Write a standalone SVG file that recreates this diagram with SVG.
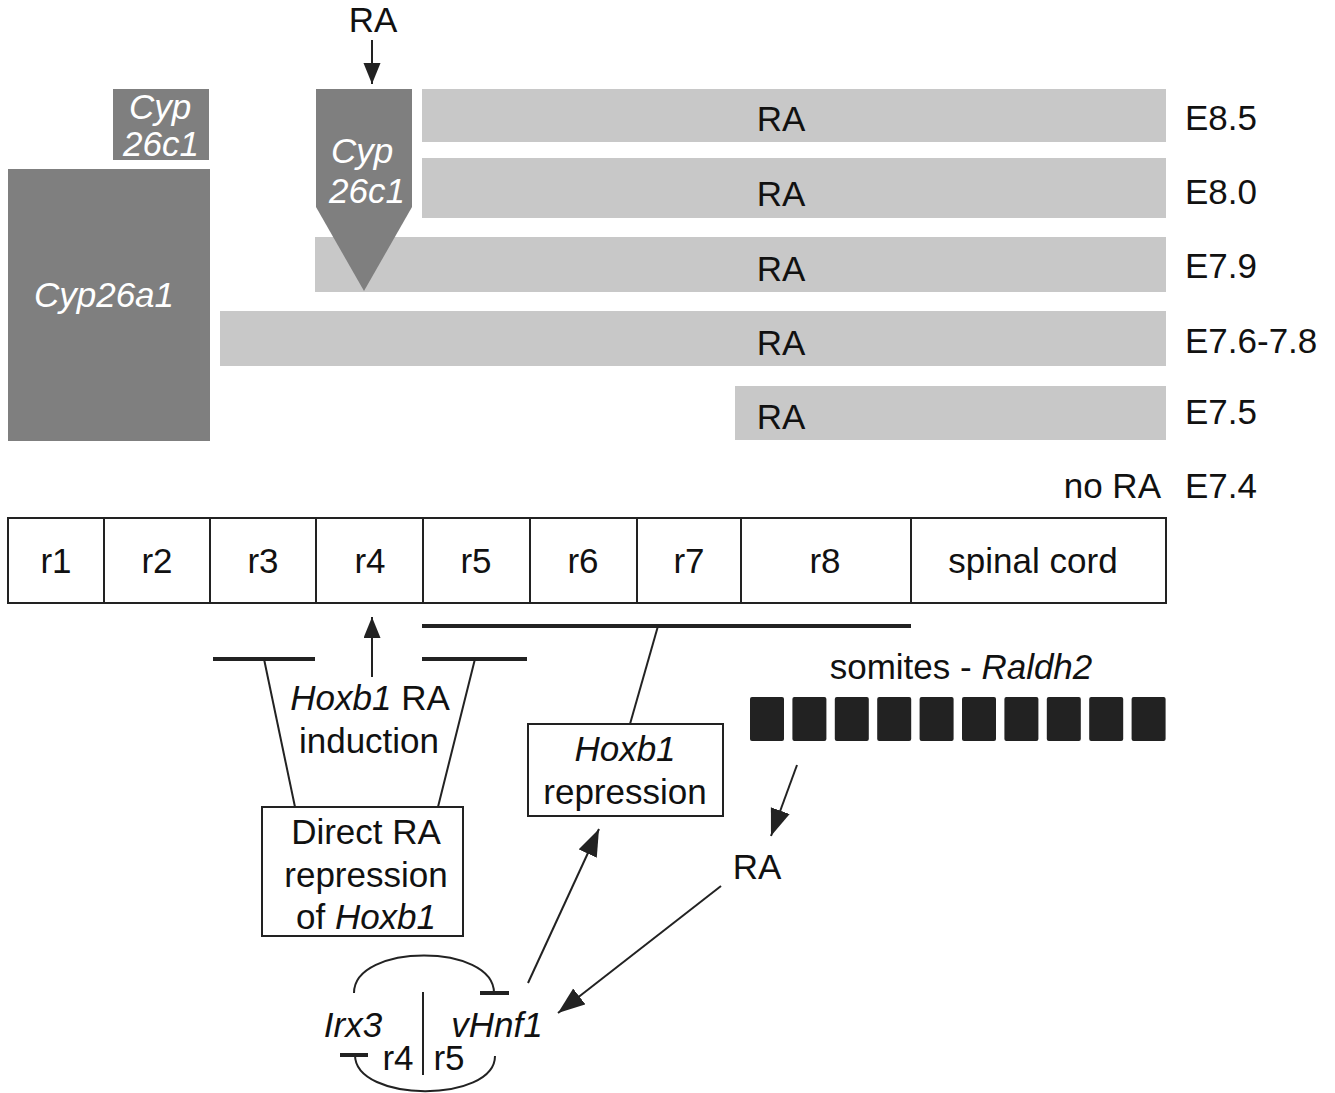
<svg xmlns="http://www.w3.org/2000/svg" width="1335" height="1093" viewBox="0 0 1335 1093">
<style>
text{font-family:"Liberation Sans",Arial,sans-serif;font-size:35px;fill:#111}
.c{text-anchor:middle}
.it{font-style:italic}
.w{fill:#fff}
.dark{fill:#7f7f7f}
.light{fill:#c8c8c8}
.box{fill:#fff;stroke:#222;stroke-width:2}
.ln{stroke:#222;stroke-width:2;fill:none}
.bar{stroke:#222;stroke-width:4;fill:none}
.som{fill:#222}
</style>
<defs>
<marker id="ah" markerUnits="userSpaceOnUse" markerWidth="28" markerHeight="22" refX="27" refY="10" orient="auto"><path d="M0,0 L27,10 L0,20 z" fill="#222"/></marker>
<marker id="ahs" markerUnits="userSpaceOnUse" markerWidth="22" markerHeight="18" refX="21" refY="8.5" orient="auto"><path d="M0,0 L21,8.5 L0,17 z" fill="#222"/></marker>
</defs>

<g id="ra-top"><text class="c" x="373" y="32">RA</text></g>

<g id="cyp26c1-small"><rect class="dark" x="113" y="89" width="96" height="71"/>
<text class="c it w" x="160" y="119">Cyp</text><text class="c it w" x="161" y="156">26c1</text></g>

<g id="cyp26a1"><rect class="dark" x="8" y="169" width="202" height="272"/>
<text class="c it w" x="104" y="307">Cyp26a1</text></g>

<g id="bar-e85"><rect class="light" x="422" y="89" width="744" height="53"/><text class="c" x="781" y="131">RA</text></g>
<g id="bar-e80"><rect class="light" x="422" y="158" width="744" height="60"/><text class="c" x="781" y="206">RA</text></g>
<g id="bar-e79"><rect class="light" x="315" y="237" width="851" height="55"/><text class="c" x="781" y="281">RA</text></g>
<g id="bar-e76"><rect class="light" x="220" y="311" width="946" height="55"/><text class="c" x="781" y="355">RA</text></g>
<g id="bar-e75"><rect class="light" x="735" y="386" width="431" height="54"/><text class="c" x="781" y="429">RA</text></g>

<g id="cyp26c1-arrow"><path class="dark" d="M316,89 L412,89 L412,207 L364,291 L316,207 z"/>
<text class="c it w" x="362" y="163">Cyp</text><text class="c it w" x="367" y="203">26c1</text></g>

<g id="stages">
<text x="1185" y="130">E8.5</text>
<text x="1185" y="204">E8.0</text>
<text x="1185" y="278">E7.9</text>
<text x="1185" y="353">E7.6-7.8</text>
<text x="1185" y="424">E7.5</text>
<text x="1185" y="498">E7.4</text>
<text x="1161" y="498" text-anchor="end">no RA</text>
</g>

<g id="rhombomeres">
<rect class="box" x="8" y="518" width="1158" height="85"/>
<path class="ln" d="M104,518V603M210,518V603M316,518V603M423,518V603M530,518V603M637,518V603"/>
<path class="ln" stroke-width="3" d="M741,518V603M911,518V603"/>
<text class="c" x="56" y="573">r1</text>
<text class="c" x="157" y="573">r2</text>
<text class="c" x="263" y="573">r3</text>
<text class="c" x="370" y="573">r4</text>
<text class="c" x="476" y="573">r5</text>
<text class="c" x="583" y="573">r6</text>
<text class="c" x="689" y="573">r7</text>
<text class="c" x="825" y="573">r8</text>
<text class="c" x="1033" y="573">spinal cord</text>
</g>

<g id="hoxb1-induction"><text class="c" x="370" y="710"><tspan class="it">Hoxb1</tspan> RA</text><text class="c" x="369" y="753">induction</text></g>

<g id="direct-repression"><rect class="box" x="262" y="807" width="201" height="129"/>
<text class="c" x="366" y="844">Direct RA</text><text class="c" x="366" y="887">repression</text><text class="c" x="366" y="929">of <tspan class="it">Hoxb1</tspan></text></g>

<g id="hoxb1-repression"><rect class="box" x="528" y="724" width="195" height="92"/>
<text class="c it" x="625" y="761">Hoxb1</text><text class="c" x="625" y="804">repression</text></g>

<g id="somites">
<text class="c" x="961" y="679">somites - <tspan class="it">Raldh2</tspan></text>
<rect class="som" x="750" y="697" width="34" height="44" rx="2"/>
<rect class="som" x="792.4" y="697" width="34" height="44" rx="2"/>
<rect class="som" x="834.8" y="697" width="34" height="44" rx="2"/>
<rect class="som" x="877.2" y="697" width="34" height="44" rx="2"/>
<rect class="som" x="919.6" y="697" width="34" height="44" rx="2"/>
<rect class="som" x="962" y="697" width="34" height="44" rx="2"/>
<rect class="som" x="1004.4" y="697" width="34" height="44" rx="2"/>
<rect class="som" x="1046.8" y="697" width="34" height="44" rx="2"/>
<rect class="som" x="1089.2" y="697" width="34" height="44" rx="2"/>
<rect class="som" x="1131.6" y="697" width="34" height="44" rx="2"/>
</g>

<g id="ra-somite"><text class="c" x="757" y="879">RA</text></g>

<g id="irx3-vhnf1">
<text class="c it" x="353" y="1037">Irx3</text>
<text class="c it" x="497" y="1037">vHnf1</text>
<text class="c" x="398" y="1070">r4</text>
<text class="c" x="449" y="1070">r5</text>
</g>

<g id="connectors">
<line class="ln" x1="372" y1="40" x2="372" y2="84" marker-end="url(#ahs)"/>
<line class="ln" x1="372" y1="677" x2="372" y2="617" marker-end="url(#ahs)"/>
<line class="bar" x1="213" y1="659" x2="315" y2="659"/>
<line class="bar" x1="422" y1="659" x2="527" y2="659"/>
<line class="bar" x1="422" y1="626" x2="911" y2="626"/>
<line class="ln" x1="264" y1="659" x2="295" y2="807"/>
<line class="ln" x1="475" y1="659" x2="438" y2="807"/>
<line class="ln" x1="658" y1="626" x2="630" y2="724"/>
<line class="ln" x1="797" y1="765" x2="771" y2="836" marker-end="url(#ah)"/>
<line class="ln" x1="721" y1="886" x2="558" y2="1013" marker-end="url(#ah)"/>
<line class="ln" x1="528" y1="983" x2="599" y2="829" marker-end="url(#ah)"/>
<path class="ln" d="M354,993 C354,943 494,943 494,993"/>
<line class="bar" x1="480" y1="993" x2="509" y2="993"/>
<path class="ln" d="M355,1055 C355,1103 495,1103 495,1056"/>
<line class="bar" x1="340" y1="1055" x2="368" y2="1055"/>
<line class="ln" x1="423" y1="992" x2="423" y2="1075"/>
</g>
</svg>
